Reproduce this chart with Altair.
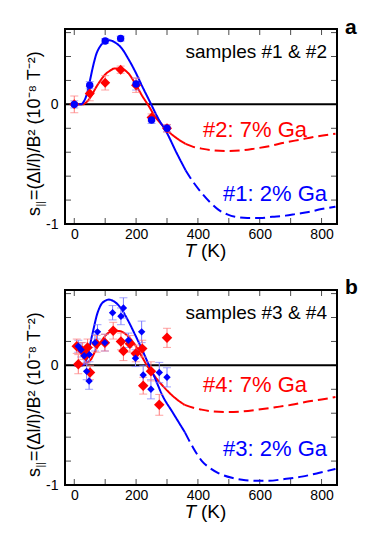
import altair as alt
import pandas as pd

# ---------------- data ----------------
# panel a : measured points
a_blue_T = [0, 50, 100, 150, 200, 250, 300]
a_blue_v = [0.0, 0.16, 0.53, 0.55, 0.17, -0.13, -0.20]
a_blue_e = [0.03, 0.03, 0.02, 0.02, 0.05, 0.03, 0.03]
a_red_T = [0, 50, 100, 150, 200, 250, 300]
a_red_v = [0.0, 0.09, 0.18, 0.29, 0.16, -0.11, -0.20]
a_red_e = [0.07, 0.06, 0.06, 0.03, 0.06, 0.03, 0.03]

# panel a : fit curves (solid part, dashed extrapolation)
a_bfit_T = [0, 20, 30, 40, 50, 60, 70, 85, 100, 115, 130, 153, 175, 196, 220, 245, 270, 300, 330, 360]
a_bfit_v = [0, 0, 0.02, 0.08, 0.19, 0.31, 0.41, 0.49, 0.525, 0.535, 0.52, 0.47, 0.38, 0.28, 0.15, 0.02, -0.11, -0.24, -0.40, -0.55]
a_bext_T = [360, 385, 412, 440, 466, 495, 520, 560, 600, 640, 683, 720, 758, 800, 845]
a_bext_v = [-0.55, -0.65, -0.74, -0.82, -0.88, -0.92, -0.94, -0.95, -0.95, -0.94, -0.93, -0.915, -0.90, -0.875, -0.855]
a_rfit_T = [0, 25, 40, 55, 70, 85, 100, 115, 130, 148, 160, 175, 200, 220, 240, 261, 280, 304, 330, 360]
a_rfit_v = [0, 0, 0.02, 0.07, 0.14, 0.20, 0.25, 0.28, 0.30, 0.30, 0.29, 0.26, 0.16, 0.07, -0.01, -0.10, -0.16, -0.225, -0.28, -0.33]
a_rext_T = [360, 385, 412, 450, 497, 540, 583, 630, 680, 730, 780, 845]
a_rext_v = [-0.33, -0.355, -0.37, -0.385, -0.39, -0.385, -0.37, -0.35, -0.32, -0.295, -0.27, -0.245]

# panel b : measured points
b_blue_T = [13, 22, 32, 40, 48, 49, 67, 75, 99, 124, 151, 159, 175, 198, 218, 223, 248, 275, 300]
b_blue_v = [0.16, 0.13, 0.08, -0.05, -0.13, 0.09, 0.19, 0.28, 0.19, 0.44, 0.41, 0.48, 0.21, 0.06, 0.28, -0.08, -0.20, -0.06, -0.10]
b_blue_e = [0.05, 0.06, 0.07, 0.07, 0.07, 0.06, 0.07, 0.06, 0.07, 0.06, 0.07, 0.085, 0.06, 0.07, 0.09, 0.08, 0.08, 0.085, 0.08]
b_red_T = [8, 13, 27, 37, 43, 51, 72, 99, 126, 151, 159, 180, 199, 220, 223, 248, 275, 300]
b_red_v = [0.16, 0.01, 0.12, 0.08, 0.15, -0.06, 0.18, 0.19, 0.29, 0.20, 0.12, 0.18, 0.10, 0.14, -0.17, -0.05, -0.33, 0.23]
b_red_e = [0.06, 0.08, 0.07, 0.06, 0.07, 0.06, 0.07, 0.07, 0.07, 0.07, 0.08, 0.07, 0.07, 0.07, 0.07, 0.08, 0.087, 0.08]

# panel b : fit curves
b_bfit_T = [0, 25, 35, 45, 55, 62, 73, 85, 100, 112, 125, 150, 175, 196, 218, 242, 260, 283, 320, 358]
b_bfit_v = [0, 0, 0.02, 0.10, 0.22, 0.30, 0.42, 0.50, 0.54, 0.55, 0.54, 0.48, 0.37, 0.26, 0.14, 0.0, -0.10, -0.24, -0.40, -0.56]
b_bext_T = [358, 385, 413, 440, 466, 510, 554, 600, 627, 680, 736, 790, 845]
b_bext_v = [-0.56, -0.69, -0.80, -0.86, -0.90, -0.94, -0.96, -0.965, -0.965, -0.95, -0.93, -0.90, -0.865]
b_rfit_T = [0, 25, 40, 54, 70, 87, 105, 120, 131, 150, 175, 197, 215, 235, 260, 293, 325, 357]
b_rfit_v = [0, 0, 0.02, 0.05, 0.13, 0.20, 0.26, 0.285, 0.29, 0.285, 0.24, 0.17, 0.09, 0.0, -0.09, -0.19, -0.27, -0.33]
b_rext_T = [357, 385, 412, 450, 497, 545, 594, 650, 703, 760, 800, 845]
b_rext_v = [-0.33, -0.355, -0.37, -0.385, -0.39, -0.385, -0.37, -0.35, -0.33, -0.30, -0.285, -0.265]

# axes
x_tick_vals = [0, 100, 200, 300, 400, 500, 600, 700, 800]
x_label_vals = [0, 200, 400, 600, 800]
y_tick_vals = [-0.8, -0.6, -0.4, -0.2, 0, 0.2, 0.4, 0.6]
y_label_vals = [-1, 0]
x_domain = [-30, 850]
y_domain = [-1, 0.63]

BLUE = "#0000ff"
RED = "#ff0000"
BLUE_ERR = "#7a7aff"
RED_ERR = "#ff7a7a"
FONT = "Liberation Sans"
W, H = 272, 195


def panel(bT, bv, be, rT, rv, re, bfT, bfv, beT, bev, rfT, rfv, reT, rev,
          letter, sample_txt, red_txt, blue_txt, red_y, blue_y, letter_y,
          blue_shape, blue_size, red_size):
    xs = alt.Scale(domain=x_domain, nice=False, zero=False)
    ys = alt.Scale(domain=y_domain, nice=False, zero=False)
    ax = alt.Axis(values=x_label_vals, tickSize=0, domain=False, grid=False, title=None,
                  labelFontSize=14, labelPadding=3, labelColor="black", labelFont=FONT)
    ay = alt.Axis(values=y_label_vals, tickSize=0, domain=False, grid=False, title=None,
                  labelFontSize=14, labelPadding=7, labelColor="black", labelFont=FONT,
                  labelExpr="replace(datum.label, '\u2212', '-')")

    def X(f):
        return alt.X(f, type="quantitative", scale=xs, axis=ax)

    def Y(f):
        return alt.Y(f, type="quantitative", scale=ys, axis=ay)

    one = pd.DataFrame({"z": [0]})
    layers = []
    # zero line
    layers.append(alt.Chart(one).mark_rule(color="black", strokeWidth=2).encode(y=Y("z")))

    # inner ticks (tick marks centred just inside the frame)
    dxt = pd.DataFrame({"t": x_tick_vals})
    dyt = pd.DataFrame({"t": y_tick_vals})
    layers.append(alt.Chart(dxt).mark_tick(orient="vertical", color="black", size=5, thickness=1).encode(
        x=X("t"), y=alt.value(3.5)))
    layers.append(alt.Chart(dxt).mark_tick(orient="vertical", color="black", size=5, thickness=1).encode(
        x=X("t"), y=alt.value(H - 3.5)))
    layers.append(alt.Chart(dyt).mark_tick(orient="horizontal", color="black", size=5, thickness=1).encode(
        y=Y("t"), x=alt.value(3.5)))
    layers.append(alt.Chart(dyt).mark_tick(orient="horizontal", color="black", size=5, thickness=1).encode(
        y=Y("t"), x=alt.value(W - 3.5)))

    # curves
    dash = alt.StrokeDash("seg:N", scale=alt.Scale(domain=["fit", "ext"], range=[[1, 0], [10, 5]]), legend=None)
    for fT, fv, eT, ev, col in [(rfT, rfv, reT, rev, RED), (bfT, bfv, beT, bev, BLUE)]:
        dc = pd.DataFrame({"T": fT + eT, "v": fv + ev, "seg": ["fit"] * len(fT) + ["ext"] * len(eT)})
        layers.append(alt.Chart(dc).mark_line(color=col, strokeWidth=2, interpolate="monotone").encode(
            x=X("T"), y=Y("v"), strokeDash=dash))

    # error bars
    for T, v, e, ecol in [(bT, bv, be, BLUE_ERR), (rT, rv, re, RED_ERR)]:
        d = pd.DataFrame({"T": T, "v": v, "lo": [a - b for a, b in zip(v, e)], "hi": [a + b for a, b in zip(v, e)]})
        layers.append(alt.Chart(d).mark_rule(color=ecol, strokeWidth=1).encode(
            x=X("T"), y=Y("lo"), y2="hi"))
        layers.append(alt.Chart(d).transform_fold(["lo", "hi"], as_=["k", "c"]).mark_tick(
            orient="horizontal", color=ecol, size=8, thickness=1).encode(x=X("T"), y=Y("c")))
    # points
    for T, v, col, shape, size in [
        (rT, rv, RED, "diamond", red_size),
        (bT, bv, BLUE, blue_shape, blue_size),
    ]:
        d = pd.DataFrame({"T": T, "v": v})
        layers.append(alt.Chart(d).mark_point(filled=True, shape=shape, size=size, color=col, opacity=1).encode(
            x=X("T"), y=Y("v")))

    # texts
    layers.append(alt.Chart(one).mark_text(text=sample_txt, font=FONT, fontSize=19, align="right",
                                           baseline="alphabetic", color="black").encode(
        x=alt.value(262), y=alt.value(28.5)))
    layers.append(alt.Chart(one).mark_text(text=red_txt, font=FONT, fontSize=22, align="right",
                                           baseline="alphabetic", color=RED).encode(
        x=alt.value(242), y=alt.value(red_y)))
    layers.append(alt.Chart(one).mark_text(text=blue_txt, font=FONT, fontSize=22, align="right",
                                           baseline="alphabetic", color=BLUE).encode(
        x=alt.value(262), y=alt.value(blue_y)))
    layers.append(alt.Chart(one).mark_text(text=letter, font=FONT, fontSize=21, fontWeight="bold",
                                           align="left", baseline="alphabetic", color="black").encode(
        x=alt.value(280), y=alt.value(letter_y)))
    # x title
    layers.append(alt.Chart(one).mark_text(text="T", font=FONT, fontSize=19, fontStyle="italic",
                                           align="right", baseline="alphabetic", color="black").encode(
        x=alt.value(131), y=alt.value(228)))
    layers.append(alt.Chart(one).mark_text(text="(K)", font=FONT, fontSize=19,
                                           align="left", baseline="alphabetic", color="black").encode(
        x=alt.value(136), y=alt.value(228)))
    # y title (rotated, reading upwards): "s", subscript "||", rest
    layers.append(alt.Chart(one).mark_text(text="s", font=FONT, fontSize=18, angle=270, align="left",
                                           baseline="middle", color="black").encode(
        x=alt.value(-30), y=alt.value(187)))
    layers.append(alt.Chart(one).mark_text(text="||", font=FONT, fontSize=10, angle=270, align="left",
                                           baseline="middle", color="black").encode(
        x=alt.value(-24.5), y=alt.value(177.5)))
    layers.append(alt.Chart(one).mark_text(text="=(\u0394l/l)/B\u00b2 (10\u207b\u2078 T\u207b\u00b2)",
                                           font=FONT, fontSize=18, angle=270, align="left",
                                           baseline="middle", color="black").encode(
        x=alt.value(-30), y=alt.value(171)))

    return alt.layer(*layers).properties(width=W, height=H)


pa = panel(a_blue_T, a_blue_v, a_blue_e, a_red_T, a_red_v, a_red_e,
           a_bfit_T, a_bfit_v, a_bext_T, a_bext_v, a_rfit_T, a_rfit_v, a_rext_T, a_rext_v,
           "a", "samples #1 & #2", "#2: 7% Ga", "#1: 2% Ga", 108, 172, 5,
           "circle", 55, 100)
pb = panel(b_blue_T, b_blue_v, b_blue_e, b_red_T, b_red_v, b_red_e,
           b_bfit_T, b_bfit_v, b_bext_T, b_bext_v, b_rfit_T, b_rfit_v, b_rext_T, b_rext_v,
           "b", "samples #3 & #4", "#4: 7% Ga", "#3: 2% Ga", 102, 166, 4.3,
           "diamond", 55, 110)

chart = alt.vconcat(pa, pb, spacing=14).properties(
    padding={"left": 16, "top": 8, "right": 5, "bottom": 5}
).configure(font=FONT).configure_view(stroke="black", strokeWidth=2)

chart.save("out.html", embed_options={"renderer": "svg", "actions": False})
